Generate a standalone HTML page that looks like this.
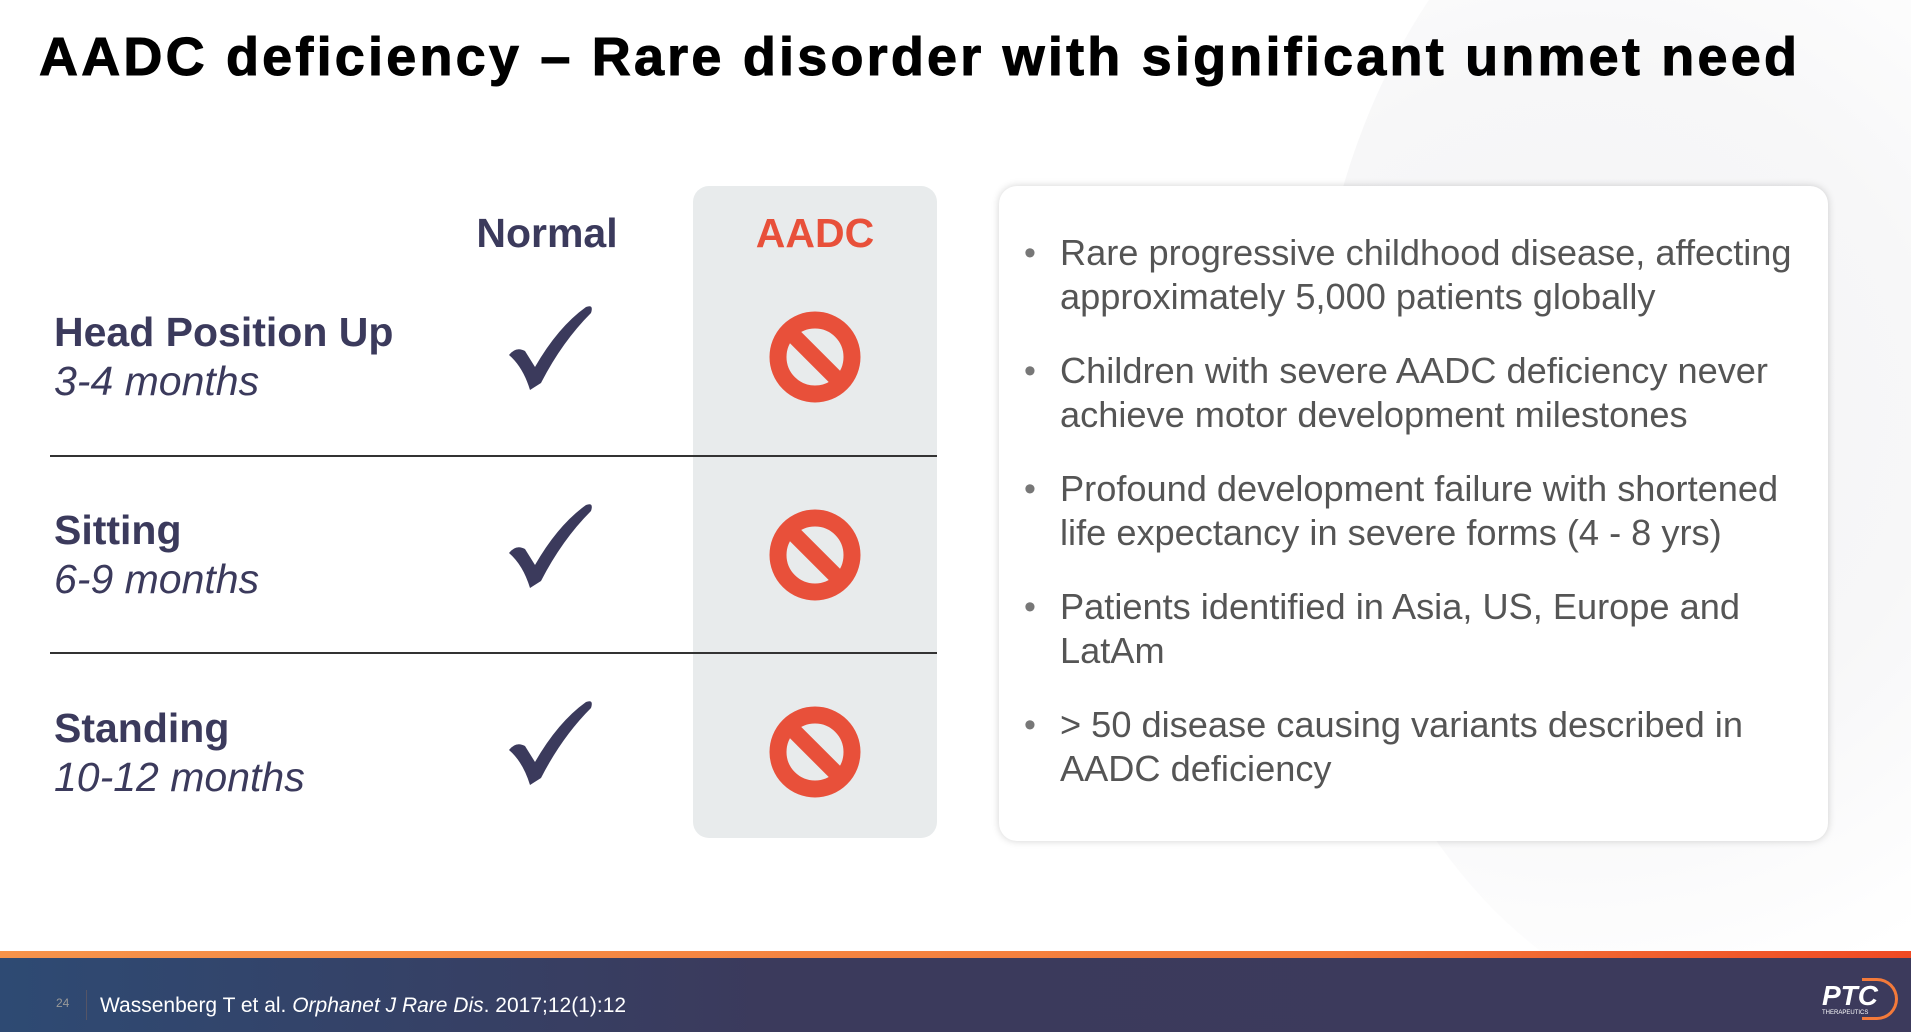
<!DOCTYPE html>
<html><head><meta charset="utf-8"><style>
*{margin:0;padding:0;box-sizing:border-box}
html{width:1911px;height:1032px;overflow:hidden}
body{width:1911px;height:1032px;position:relative;overflow:hidden;background:#fff;font-family:"Liberation Sans",Arial,sans-serif}
.bgsw{position:absolute;right:-300px;top:-200px;width:900px;height:1230px;border-radius:50%;background:radial-gradient(ellipse at 30% 50%,#f4f4f5 0%,#f7f7f8 40%,#fff 70%);}
.title{position:absolute;left:39px;top:26px;font-size:54px;font-weight:bold;color:#000;letter-spacing:3.2px;white-space:nowrap;-webkit-text-stroke:1px #000}
.col{position:absolute;left:693px;top:186px;width:244px;height:652px;background:#e8ebec;border-radius:16px}
.hdr{position:absolute;font-size:41px;font-weight:bold;transform:translateX(-50%)}
.line{position:absolute;left:50px;width:887px;height:1.5px;background:#333}
.lab{position:absolute;left:54px;color:#3b3a5c;font-size:41px}
.lab b{display:block;font-weight:bold}
.lab i{display:block;font-size:41px;margin-top:2px}
.card{position:absolute;left:999px;top:186px;width:829px;height:655px;background:#fff;border-radius:18px;box-shadow:0 0 8px rgba(0,0,0,0.18)}
.card ul{list-style:none;position:absolute;left:61px;top:45px;width:745px}
.card li{position:relative;color:#555;font-size:36.2px;line-height:44px;margin-bottom:30px}
.card li:before{content:"•";position:absolute;left:-36px;color:#777;font-size:34px}
.foot{position:absolute;left:0;top:958px;width:1911px;height:74px;background:linear-gradient(90deg,#2e4a73,#3b3a5c 40%,#3c3a5c)}
.orange{position:absolute;left:0;top:951px;width:1911px;height:7px;background:linear-gradient(90deg,#f7934a,#f47a3a 70%,#ef4a24)}
</style></head><body>
<div class="bgsw"></div>
<div class="title">AADC deficiency – Rare disorder with significant unmet need</div>
<div class="col"></div>
<div class="hdr" style="left:547px;top:210px;color:#3b3a5c">Normal</div>
<div class="hdr" style="left:815px;top:210px;color:#e8503a">AADC</div>
<div class="line" style="top:455px"></div>
<div class="line" style="top:652px"></div>
<div class="lab" style="top:309px"><b>Head Position Up</b><i>3-4 months</i></div>
<div class="lab" style="top:507px"><b>Sitting</b><i>6-9 months</i></div>
<div class="lab" style="top:705px"><b>Standing</b><i>10-12 months</i></div>
<svg style="position:absolute;left:0;top:0" width="1911" height="1032">
<defs>
<path id="ck" d="M-41,10 Q-34,1 -25,6 L-15,22 Q8,-18 36,-38 Q44,-41 41,-32 Q12,-3 -9,38 L-20,45 Q-27,22 -41,10 Z" fill="#3b3a5c"/>
<g id="no"><circle r="37" fill="none" stroke="#e8503a" stroke-width="17"/><line x1="-26" y1="-26" x2="26" y2="26" stroke="#e8503a" stroke-width="16"/></g>
</defs>
<use href="#ck" x="550" y="345"/><use href="#ck" x="550" y="543"/><use href="#ck" x="550" y="740"/>
<use href="#no" x="815" y="357"/><use href="#no" x="815" y="555"/><use href="#no" x="815" y="752"/>
</svg>
<div class="card"><ul>
<li>Rare progressive childhood disease, affecting approximately 5,000 patients globally</li>
<li>Children with severe AADC deficiency never achieve motor development milestones</li>
<li>Profound development failure with shortened life expectancy in severe forms (4 - 8 yrs)</li>
<li>Patients identified in Asia, US, Europe and LatAm</li>
<li>&gt; 50 disease causing variants described in AADC deficiency</li>
</ul></div>
<div class="orange"></div>
<div class="foot">
<div style="position:absolute;left:56px;top:38px;font-size:12px;color:#999">24</div>
<div style="position:absolute;left:86px;top:32px;width:1px;height:30px;background:#556"></div>
<div style="position:absolute;left:100px;top:36px;font-size:21px;color:#fff">Wassenberg T et al. <i>Orphanet J Rare Dis</i>. 2017;12(1):12</div>
<div style="position:absolute;left:1822px;top:22px;font-size:28px;font-weight:bold;color:#fff;font-style:italic">PTC</div>
<div style="position:absolute;left:1822px;top:52px;font-size:6px;color:#fff">THERAPEUTICS</div>
<div style="position:absolute;left:1862px;top:20px;width:36px;height:42px;border:3px solid #f47a3a;border-left:none;border-radius:0 22px 22px 0"></div>
</div>
</body></html>
